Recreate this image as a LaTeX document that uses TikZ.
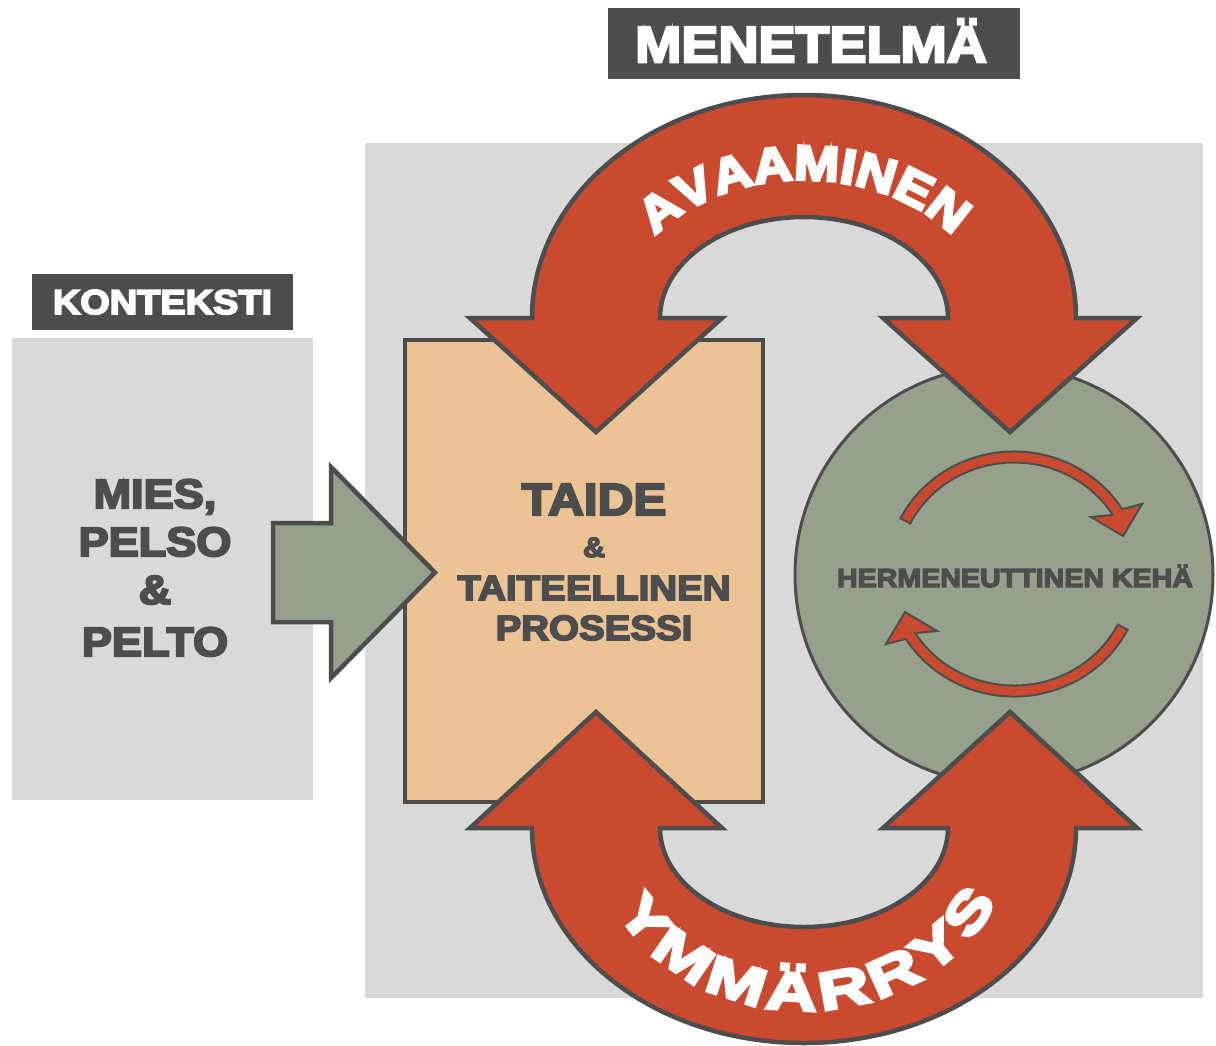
\documentclass[tikz,border=0pt]{standalone}
\usepackage{fontspec}
\newfontfamily\blk{Liberation Sans}[FakeStretch=1.1, BoldFeatures={FakeBold=5}]
\newfontfamily\heavywide{Liberation Sans}[FakeStretch=1.35, BoldFeatures={FakeBold=6}]
\newfontfamily\heavy{Liberation Sans}[FakeStretch=1.1, BoldFeatures={FakeBold=6}]
\usetikzlibrary{decorations.text, calc}
\definecolor{dgray}{RGB}{77,77,77}
\definecolor{lgray}{RGB}{217,217,217}
\definecolor{sage}{RGB}{150,161,140}
\definecolor{peach}{RGB}{235,195,148}
\definecolor{brick}{RGB}{202,74,48}
\newcommand\myfs[1]{\blk\bfseries\fontsize{#1}{#1}\selectfont}
\newcommand\topcurvefont{\heavy\bfseries\fontsize{49}{49}\selectfont}
\newcommand\botcurvefont{\heavywide\bfseries\fontsize{53}{53}\selectfont}
\begin{document}
\begin{tikzpicture}[x=1pt, y=-1pt,
  panel/.style={fill=lgray, inner sep=0pt, outer sep=0pt},
  titlebox/.style={fill=dgray, inner sep=0pt, outer sep=0pt},
  titletext/.style={text=white, inner sep=0pt, anchor=base},
  bodytext/.style={text=dgray, inner sep=0pt, anchor=base},
  bigarrow/.style={fill=brick, draw=dgray, line width=4.5pt, line join=miter},
  smallarr/.style={fill=brick, draw=dgray, line width=2pt, line join=miter},
  blockarrow/.style={fill=sage, draw=dgray, line width=4.5pt, line join=miter}]
\useasboundingbox (0,0) rectangle (1216,1045);
\fill[white] (0,0) rectangle (1216,1045);

% panels
\node[panel, minimum width=838pt, minimum height=855pt] (frame) at (784,570.5) {};
\node[panel, minimum width=301pt, minimum height=462pt] (ctx) at (162.5,569) {};
\node[titlebox, minimum width=261pt, minimum height=56pt] (ctxtitle) at (162.5,302) {};
\node[titlebox, minimum width=412pt, minimum height=71pt] (mtitle) at (814,43.5) {};
\node[titletext, font=\myfs{50.5}] (mtitletext) at (811,62) {MENETELMÄ};
\node[titletext, font=\myfs{34.5}] (ctxtitletext) at (162.5,314) {KONTEKSTI};

% context text
\node[bodytext, font=\myfs{41}] (l1) at (155,508) {MIES,};
\node[bodytext, font=\myfs{41}] (l2) at (155,556) {PELSO};
\node[bodytext, font=\myfs{41}] (l3) at (155,604) {\&};
\node[bodytext, font=\myfs{41}] (l4) at (155,656) {PELTO};

% art box
\node[fill=peach, draw=dgray, line width=3.5pt, inner sep=0pt, outer sep=0pt,
      minimum width=358pt, minimum height=462pt] (art) at (584,571) {};

% hermeneutic circle
\node[circle, fill=sage, draw=dgray, line width=3pt, inner sep=0pt,
      minimum size=418pt] (herm) at (1004,575) {};

% green block arrow from context to art
\coordinate (gtail) at (273,572.5);
\coordinate (gtip) at (435,572.5);
\draw[blockarrow] ($(gtail)+(0,-49.5)$) -- ($(gtail)+(58,-49.5)$) -- ($(gtail)+(58,-105.5)$)
   -- (gtip) -- ($(gtail)+(58,105.5)$) -- ($(gtail)+(58,49.5)$) -- ($(gtail)+(0,49.5)$) -- cycle;

% top red arrow
\coordinate (O1) at (804,318);
\draw[bigarrow] (532,318) arc[start angle=180, end angle=360, x radius=272, y radius=223]
  -- (1137,318) -- (1010,432) -- (883,318) -- (948,318)
  arc[start angle=360, end angle=180, x radius=144, y radius=101]
  -- (722,318) -- (596,432) -- (470,318) -- cycle;
\path[decorate, decoration={text along path, text color=white, text align=center,
   text={|\topcurvefont|AVAAMINEN}}]
  (619,318) arc[start angle=180, end angle=360, x radius=185, y radius=138];

% bottom red arrow
\coordinate (O2) at (804,828);
\draw[bigarrow] (532,828) arc[start angle=180, end angle=0, x radius=272, y radius=215]
  -- (1137,828) -- (1010,712) -- (883,828) -- (948,828)
  arc[start angle=0, end angle=180, x radius=144, y radius=99]
  -- (722,828) -- (596,712) -- (470,828) -- cycle;
\path[decorate, decoration={text along path, text color=white, text align=fit to path,
   text={|\botcurvefont|YMMÄRRYS}}]
  ($(O2)+(153:210 and 182)$) arc[start angle=153, end angle=24, x radius=210, y radius=182];

% small circular arrows
\coordinate (C) at (1014,574);
\draw[smallarr] ($(C)+(207:127.5 and 122.5)$)
  arc[start angle=207, end angle=328, x radius=127.5, y radius=122.5]
  -- ($(C)+(128,-70)$) -- ($(C)+(109,-38)$) -- ($(C)+(77,-57)$)
  -- ($(C)+(328:116.5 and 111.5)$)
  arc[start angle=328, end angle=207, x radius=116.5, y radius=111.5] -- cycle;
\begin{scope}[rotate around={180:(C)}]
\draw[smallarr] ($(C)+(207:127.5 and 122.5)$)
  arc[start angle=207, end angle=328, x radius=127.5, y radius=122.5]
  -- ($(C)+(128,-70)$) -- ($(C)+(109,-38)$) -- ($(C)+(77,-57)$)
  -- ($(C)+(328:116.5 and 111.5)$)
  arc[start angle=328, end angle=207, x radius=116.5, y radius=111.5] -- cycle;
\end{scope}
\node[bodytext, font=\myfs{26}] (hermtext) at (1015,587) {HERMENEUTTINEN KEHÄ};

% art text
\node[bodytext, font=\myfs{45}] (a1) at (594,515) {TAIDE};
\node[bodytext, font=\myfs{28}] (a2) at (594,557) {\&};
\node[bodytext, font=\myfs{35}] (a3) at (594,600) {TAITEELLINEN};
\node[bodytext, font=\myfs{35}] (a4) at (594,640) {PROSESSI};
\end{tikzpicture}
\end{document}
